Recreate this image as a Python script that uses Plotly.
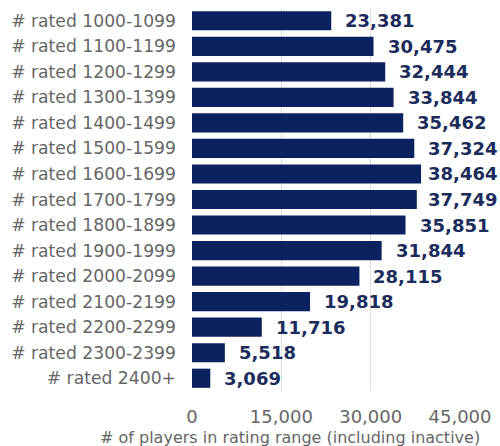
import plotly.graph_objects as go

categories = ["# rated 1000-1099", "# rated 1100-1199", "# rated 1200-1299", "# rated 1300-1399",
              "# rated 1400-1499", "# rated 1500-1599", "# rated 1600-1699", "# rated 1700-1799",
              "# rated 1800-1899", "# rated 1900-1999", "# rated 2000-2099", "# rated 2100-2199",
              "# rated 2200-2299", "# rated 2300-2399", "# rated 2400+"]
values = [23381, 30475, 32444, 33844, 35462, 37324, 38464, 37749, 35851, 31844, 28115, 19818, 11716, 5518, 3069]
x_ticks = [0, 15000, 30000, 45000]
x_title = "# of players in rating range (including inactive)"

W, H = 500, 446
ML, MR, MT, MB = 192, 40, 8, 55
XMAX = 45000

fig = go.Figure()
fig.add_trace(go.Bar(
    x=values, y=categories, orientation="h",
    marker=dict(color="#0c2160", line=dict(width=0)),
    hoverinfo="skip",
))
plot_w = W - ML - MR
plot_h = H - MT - MB
for c, v in zip(categories, values):
    bar_end = ML + v / XMAX * plot_w
    shift = min(12, W - 4 - 70 - bar_end)
    fig.add_annotation(x=v, y=c, text=f"{v:,}", showarrow=False, xanchor="left", xshift=shift,
                       font=dict(family="DejaVu Sans", size=18, color="#1b2c5c", weight="bold"))

# x-axis title, centred under the chart like the reference
fig.add_annotation(x=(290 - ML) / plot_w, y=-(437 - (MT + plot_h)) / plot_h,
                   xref="paper", yref="paper", text=x_title, showarrow=False,
                   xanchor="center", yanchor="middle",
                   font=dict(family="DejaVu Sans", size=16, color="#666666"))

fig.update_layout(
    width=W, height=H,
    margin=dict(l=ML, r=MR, t=MT, b=MB, autoexpand=False),
    paper_bgcolor="white", plot_bgcolor="white",
    bargap=0.25, showlegend=False,
    font=dict(family="DejaVu Sans", color="#666666"),
)
fig.update_xaxes(range=[0, XMAX], tickvals=x_ticks, tickformat=",d", showgrid=True,
                 gridcolor="#dedede", gridwidth=1, zeroline=False, showline=False,
                 automargin=False,
                 tickfont=dict(size=18, color="#666666"), ticklabelstandoff=13)
fig.update_yaxes(autorange="reversed", showgrid=False, showline=False, zeroline=False,
                 automargin=False,
                 tickfont=dict(size=17.2, color="#666666"), ticklabelstandoff=15)

fig.write_html("out.html", config={"displayModeBar": False},
               post_script="document.body.style.margin='0';document.body.style.overflow='hidden';")
